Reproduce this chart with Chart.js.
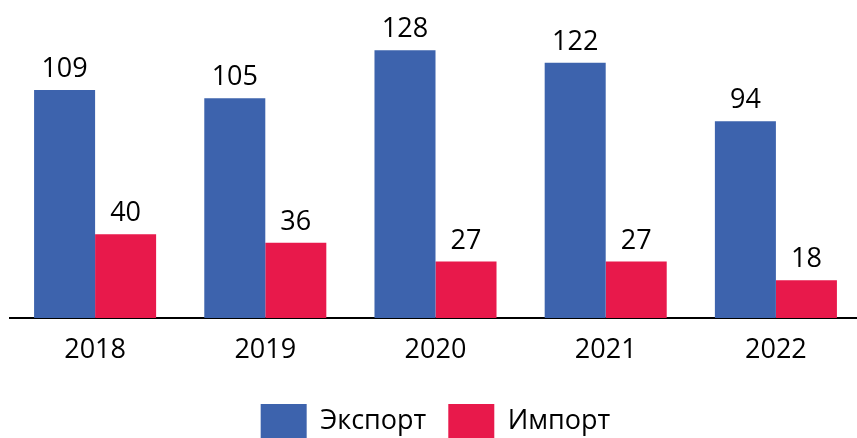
<!DOCTYPE html>
<html lang="ru">
<head>
<meta charset="utf-8">
<title>Экспорт и импорт</title>
<script src="https://cdn.jsdelivr.net/npm/chart.js@4/dist/chart.umd.min.js"></script>
<style>
  html, body { margin: 0; padding: 0; background: #fff; overflow: hidden; }
  /* полотно чуть шире окна: ось и последний столбец уходят за правый край */
  #wrap { width: 861px; height: 438px; }
</style>
</head>
<body>
<div id="wrap"><canvas id="tradeChart"></canvas></div>
<script>
const years   = ['2018', '2019', '2020', '2021', '2022'];
const exportV = [109, 105, 128, 122, 94];
const importV = [40, 36, 27, 27, 18];

const FONT = '"Open Sans", "Noto Sans", sans-serif';
const LEGEND_PAD = 22;

// значения над столбцами
const barValues = {
  id: 'barValues',
  afterDatasetsDraw(chart) {
    const ctx = chart.ctx;
    ctx.save();
    ctx.font = `27px ${FONT}`;
    ctx.fillStyle = '#000';
    ctx.textAlign = 'center';
    ctx.textBaseline = 'alphabetic';
    chart.data.datasets.forEach((ds, i) => {
      chart.getDatasetMeta(i).data.forEach((bar, j) => {
        ctx.fillText(String(ds.data[j]), bar.x, bar.y - 13);
      });
    });
    ctx.restore();
  }
};

new Chart(document.getElementById('tradeChart'), {
  type: 'bar',
  data: {
    labels: years,
    datasets: [
      { label: 'Экспорт', data: exportV, backgroundColor: '#3D63AD' },
      { label: 'Импорт',  data: importV, backgroundColor: '#E8194B' }
    ]
  },
  options: {
    responsive: true,
    maintainAspectRatio: false,
    animation: false,
    devicePixelRatio: 1,
    categoryPercentage: 0.717,
    barPercentage: 1,
    layout: { padding: { left: 10, right: 0, top: 0, bottom: -10 } },
    scales: {
      x: {
        grid: { display: false, drawTicks: false },
        border: { display: true, color: '#000', width: 2 },
        ticks: { color: '#000', font: { family: FONT, size: 27 }, padding: 16 },
        afterFit(scale) { scale.height = 86 - LEGEND_PAD; }
      },
      y: { display: false, min: 0, max: 152 }
    },
    plugins: {
      tooltip: { enabled: false },
      legend: {
        position: 'bottom',
        labels: {
          color: '#000',
          font: { family: FONT, size: 27 },
          boxWidth: 46,
          boxHeight: 34,
          padding: LEGEND_PAD
        }
      }
    }
  },
  plugins: [barValues]
});
</script>
</body>
</html>
